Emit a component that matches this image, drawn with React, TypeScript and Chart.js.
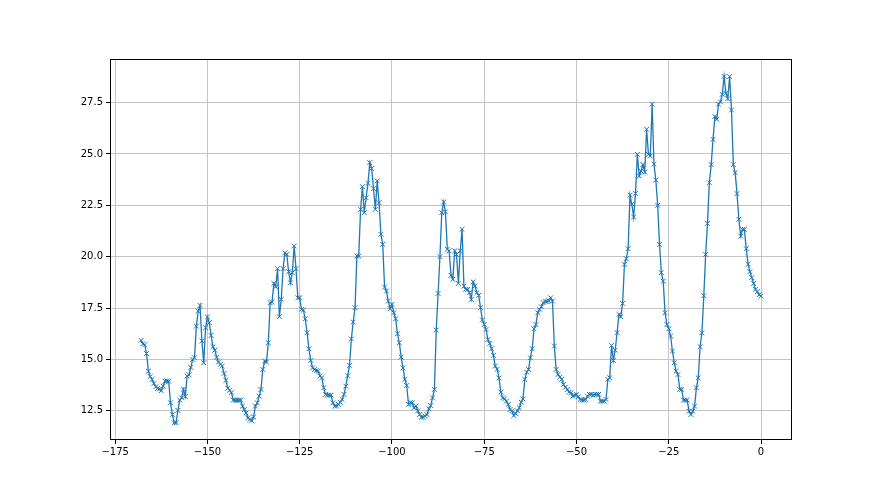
import React, { useEffect, useRef } from "react";
import { Chart, registerables } from "chart.js";

Chart.register(...registerables);

// Hours relative to now: samples every half hour from -168 h to 0 h
const START_HOUR = -168;
const STEP_HOURS = 0.5;

const day1 = [
  15.93, 15.76, 15.71, 15.29, 14.43, 14.17, 14.03, 13.83, 13.67, 13.59,
  13.56, 13.48, 13.7, 13.94, 13.96, 13.94, 12.89, 12.32, 11.92, 11.92,
  12.52, 13.02, 13.13, 13.55, 13.2, 14.19, 14.25, 14.61, 15.0, 15.08,
  16.62, 17.35, 17.63, 15.9, 14.84, 16.54, 17.07, 16.79, 16.17, 15.62,
  15.45, 15.11, 14.87, 14.76, 14.68, 14.32, 13.98, 13.6,
];
const day2 = [
  13.5, 13.38, 13.02, 13.02, 13.02, 13.02, 13.02, 12.73, 12.56, 12.4,
  12.16, 12.08, 12.01, 12.2, 12.73, 12.89, 13.21, 13.54, 14.51, 14.92,
  14.87, 15.81, 17.76, 17.79, 18.7, 18.54, 19.42, 17.08, 17.92, 19.42,
  20.19, 20.11, 19.27, 18.73, 19.22, 20.52, 19.42, 18.0, 18.0, 17.44,
  17.4, 16.98, 16.3, 15.52, 14.95, 14.59, 14.51, 14.46,
];
const day3 = [
  14.43, 14.19, 14.11, 13.62, 13.3, 13.26, 13.26, 13.26, 12.89, 12.73,
  12.73, 12.81, 12.92, 13.05, 13.3, 13.7, 14.2, 14.71, 16.0, 16.82,
  17.52, 20.03, 20.03, 22.3, 23.41, 22.14, 22.87, 23.57, 24.58, 24.29,
  23.31, 22.3, 23.69, 22.63, 21.09, 20.6, 18.52, 18.33, 17.84, 17.47,
  17.68, 17.27, 16.98, 16.25, 15.81, 15.11, 14.59, 14.03,
];
const day4 = [
  13.73, 12.81, 12.9, 12.89, 12.65, 12.73, 12.5, 12.32, 12.19, 12.2,
  12.25, 12.32, 12.6, 12.76, 13.13, 13.54, 16.43, 18.21, 20.0, 22.14,
  22.66, 22.18, 20.36, 20.28, 19.09, 18.9, 20.28, 20.11, 18.7, 20.28,
  21.33, 18.57, 18.41, 18.41, 18.25, 17.92, 18.77, 18.57, 18.25, 18.12,
  17.52, 16.92, 16.7, 16.46, 15.97, 15.78, 15.52, 15.2,
];
const day5 = [
  14.68, 14.52, 14.1, 13.41, 13.13, 13.08, 12.97, 12.81, 12.56, 12.5,
  12.27, 12.37, 12.5, 12.65, 12.92, 13.08, 14.03, 14.38, 14.51, 15.08,
  15.52, 16.49, 16.7, 17.27, 17.44, 17.56, 17.76, 17.82, 17.82, 17.86,
  18.0, 17.84, 15.65, 14.51, 14.27, 14.14, 14.03, 13.78, 13.65, 13.54,
  13.41, 13.38, 13.21, 13.26, 13.3, 13.18, 13.05, 13.02,
];
const day6 = [
  13.02, 13.05, 13.21, 13.3, 13.3, 13.25, 13.3, 13.3, 13.3, 12.97,
  12.97, 12.97, 13.05, 14.03, 14.11, 15.68, 14.95, 15.45, 16.3, 17.19,
  17.08, 17.73, 19.63, 19.9, 20.39, 22.99, 22.55, 21.93, 23.08, 24.98,
  23.93, 24.17, 24.48, 24.12, 26.2, 24.98, 24.9, 27.42, 24.5, 23.73,
  22.5, 20.6, 19.22, 18.81, 17.27, 16.7, 16.49, 16.14,
];
const day7 = [
  15.41, 14.84, 14.43, 14.27, 13.54, 13.54, 13.02, 13.02, 13.02, 12.48,
  12.32, 12.48, 12.73, 13.62, 14.1, 15.62, 16.3, 18.1, 20.11, 21.62,
  23.6, 24.48, 25.71, 26.82, 26.69, 27.42, 27.53, 27.9, 28.77, 27.95,
  27.69, 28.77, 27.14, 24.48, 24.09, 23.07, 21.82, 21.0, 21.33, 21.33,
  20.39, 19.63, 19.27, 18.98, 18.7, 18.41, 18.3, 18.15, 18.08,
];

const xTicks = [-175, -150, -125, -100, -75, -50, -25, 0];
const yTicks = [12.5, 15, 17.5, 20, 22.5, 25, 27.5];

export default function App() {
  const ref = useRef<HTMLCanvasElement>(null);

  useEffect(() => {
    document.body.style.margin = "0";
    const values = [...day1, ...day2, ...day3, ...day4, ...day5, ...day6, ...day7];
    const points = values.map((v, i) => ({ x: START_HOUR + STEP_HOURS * i, y: v }));

    const frame = {
      id: "frame",
      afterDraw(chart: any) {
        const { ctx, chartArea } = chart;
        const l = Math.round(chartArea.left) + 0.5;
        const t = Math.round(chartArea.top) + 0.5;
        const r = Math.round(chartArea.right) - 0.5;
        const b = Math.round(chartArea.bottom) - 0.5;
        ctx.save();
        ctx.strokeStyle = "#000";
        ctx.lineWidth = 1;
        ctx.strokeRect(l, t, r - l, b - t);
        ctx.restore();
      },
    };

    const font = { family: "DejaVu Sans", size: 10 };
    const chart = new Chart(ref.current as HTMLCanvasElement, {
      type: "line",
      data: {
        datasets: [
          {
            data: points,
            borderColor: "#1f77b4",
            borderWidth: 1.3,
            pointStyle: "crossRot",
            pointRadius: 3.4,
            pointBorderColor: "#1f77b4",
            pointBackgroundColor: "#1f77b4",
            pointBorderWidth: 1,
            tension: 0,
            fill: false,
          },
        ],
      },
      options: {
        responsive: false,
        animation: false,
        devicePixelRatio: 1,
        layout: { padding: { top: 59, right: 88, bottom: 0, left: 0 } },
        plugins: { legend: { display: false }, tooltip: { enabled: false } },
        scales: {
          x: {
            type: "linear",
            min: -176.4,
            max: 8.4,
            afterFit: (s: any) => {
              s.height = 55;
            },
            afterBuildTicks: (s: any) => {
              s.ticks = xTicks.map((v) => ({ value: v }));
            },
            grid: {
              color: "#c4c4c4",
              lineWidth: 1,
              tickLength: 4,
              tickColor: "#000",
              tickWidth: 1,
            },
            border: { display: false },
            ticks: {
              color: "#000",
              font,
              padding: 2,
              maxRotation: 0,
              autoSkip: false,
              callback: (v: any) => (v < 0 ? "\u2212" + Math.abs(v) : String(v)),
            },
          },
          y: {
            type: "linear",
            min: 11.08,
            max: 29.62,
            afterFit: (s: any) => {
              s.width = 110;
            },
            afterBuildTicks: (s: any) => {
              s.ticks = yTicks.map((v) => ({ value: v }));
            },
            grid: {
              color: "#c4c4c4",
              lineWidth: 1,
              tickLength: 4,
              tickColor: "#000",
              tickWidth: 1,
            },
            border: { display: false },
            ticks: {
              color: "#000",
              font,
              padding: 3,
              autoSkip: false,
              callback: (v: any) => Number(v).toFixed(1),
            },
          },
        },
      },
      plugins: [frame],
    });
    return () => chart.destroy();
  }, []);

  return <canvas ref={ref} width={880} height={495} style={{ display: "block" }} />;
}
